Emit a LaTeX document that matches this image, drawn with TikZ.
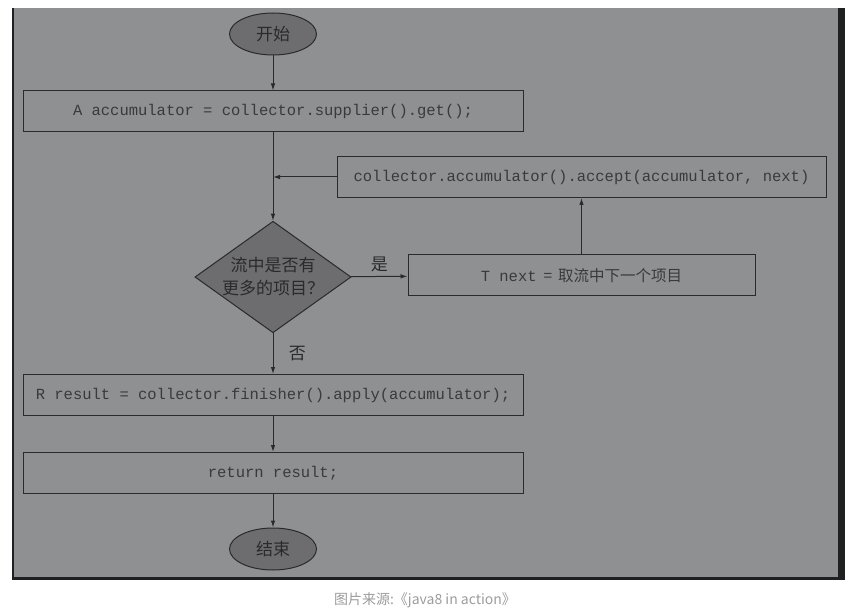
\documentclass[tikz,border=0pt]{standalone}
\usepackage{fontspec}
\setmonofont{Liberation Mono}
\newfontfamily\cjk{Noto Sans CJK SC}
\usetikzlibrary{arrows.meta,shapes.geometric,positioning}
\definecolor{panel}{HTML}{8F9092}
\definecolor{rim}{HTML}{1F2022}
\definecolor{shade}{HTML}{6D6D6F}
\definecolor{ink}{HTML}{2A2A2A}
\definecolor{codeink}{HTML}{3A3A3A}
\definecolor{note}{HTML}{9C9C9C}

\begin{document}
\begin{tikzpicture}[x=1pt, y=-1pt,
  flow/.style={-{Latex[length=7pt,width=4.5pt]}, draw=ink, line width=1pt},
  codebox/.style={draw=ink, line width=1pt, minimum width=500pt, minimum height=41pt,
    inner sep=0pt, text=codeink, font=\ttfamily\fontsize{15.5}{16}\selectfont},
  term/.style={ellipse, draw=ink, fill=shade, line width=1pt, minimum width=87pt,
    minimum height=42pt, inner sep=0pt, text=ink, font=\cjk\fontsize{17}{18}\selectfont},
  decision/.style={diamond, draw=ink, fill=shade, line width=1pt, aspect=1.4,
    minimum width=154pt, minimum height=110pt, inner sep=0pt, align=center,
    text=ink, font=\cjk\fontsize{17}{23}\selectfont},
  tag/.style={text=ink, font=\cjk\fontsize{17}{18}\selectfont}
]
\clip (0,0) rectangle (859,609);
\useasboundingbox (0,0) rectangle (859,609);
%----- panel -----
\fill[rim] (12,8) rectangle (845,580);
\fill[panel] (14,8) rectangle (838,577);

%----- nodes -----
\node[term] (start) at (273,34) {开始};
\node[codebox] (init) at (273,111.5) {A accumulator = collector.supplier().get();};
\node[codebox, minimum width=489pt] (accept) at (581.5,177) {collector.accumulator().accept(accumulator, next)};
\node[decision] (more) at (273,277) {流中是否有\\更多的项目？};
\node[codebox, minimum width=347pt] (fetch) at (581.5,275.5)
  {T next\hspace{7pt}{\cjk =\hspace{6pt}取流中下一个项目}\hspace{22pt}};
\node[codebox] (finish) at (273,395) {R result = collector.finisher().apply(accumulator);};
\node[codebox] (ret) at (273,473) {return result;};
\node[term] (stop) at (273,549) {结束};
\coordinate (join) at (accept.west -| more.north);

%----- connectors -----
\draw[flow] (start) -- (init);
\draw[flow] (init) -- (more);
\draw[flow] (accept) -- (join);
\draw[flow] (more) -- (fetch) node[midway, above=1pt, tag]{是};
\draw[flow] (fetch) -- (accept);
\draw[flow] (more) -- (finish) node[midway, right=12pt, tag]{否};
\draw[flow] (finish) -- (ret);
\draw[flow] (ret) -- (stop);

%----- caption -----
\node[anchor=south, inner sep=1pt, text=note, font=\cjk\fontsize{14}{14}\selectfont] (src) at (425,609) {图片来源:《java8 in action》};
\end{tikzpicture}
\end{document}
